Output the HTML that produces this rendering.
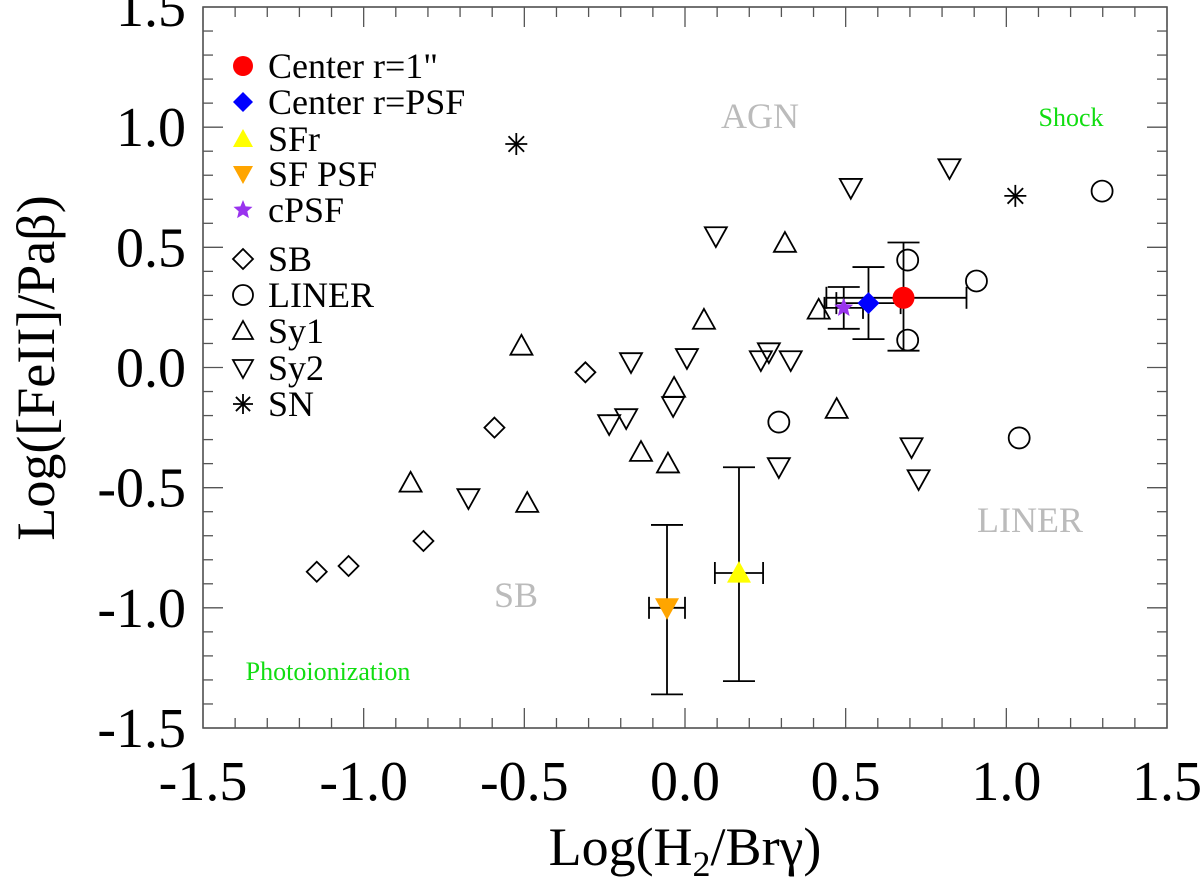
<!DOCTYPE html>
<html><head><meta charset="utf-8"><style>
html,body{margin:0;padding:0;background:#fff;}
svg{display:block;font-family:"Liberation Serif",serif;}
</style></head><body>
<svg id="chart" width="1200" height="877" viewBox="0 0 1200 877" xmlns="http://www.w3.org/2000/svg"></svg>
<script>
const xTicks=[-1.5,-1.0,-0.5,0.0,0.5,1.0,1.5];
const yTicks=[-1.5,-1.0,-0.5,0.0,0.5,1.0,1.5];
const tickLabels=["-1.5","-1.0","-0.5","0.0","0.5","1.0","1.5"];
const sbX=[-1.146,-1.047,-0.814,-0.593,-0.31];
const sbY=[-0.85,-0.826,-0.722,-0.25,-0.02];
const linerX=[0.693,0.693,0.907,0.292,1.040,1.298];
const linerY=[0.447,0.114,0.36,-0.227,-0.293,0.734];
const sy1X=[-0.854,-0.509,-0.491,-0.137,-0.053,-0.034,0.059,0.311,0.416,0.472];
const sy1Y=[-0.48,0.09,-0.564,-0.352,-0.40,-0.085,0.198,0.518,0.24,-0.173];
const sy2X=[-0.674,-0.236,-0.183,-0.168,-0.037,0.006,0.096,0.236,0.261,0.329,0.292,0.516,0.705,0.727,0.823];
const sy2Y=[-0.543,-0.235,-0.21,0.023,-0.16,0.04,0.547,0.031,0.064,0.031,-0.414,0.748,-0.331,-0.464,0.83];
const snX=[-0.525,1.028];
const snY=[0.93,0.714];
const specNames=["center-r1","center-psf","cpsf","sfr","sf-psf"];
const specX=[0.68,0.571,0.494,0.168,-0.056];
const specY=[0.29,0.268,0.248,-0.855,-1.0];
const specXLo=[0.24,0.1,0.06,0.075,0.056];
const specXHi=[0.196,0.1,0.06,0.075,0.056];
const specYLo=[0.22,0.15,0.087,0.45,0.36];
const specYHi=[0.23,0.15,0.087,0.44,0.345];

const NS="http://www.w3.org/2000/svg";
const svg=document.getElementById('chart');
const L=203,R=1167,T=7,B=728;
const X=v=>L+(v+1.5)/3*(R-L);
const Y=v=>B-(v+1.5)/3*(B-T);
function mk(tag,attrs,parent){const e=document.createElementNS(NS,tag);for(const k in attrs)e.setAttribute(k,attrs[k]);(parent||svg).appendChild(e);return e;}

const axes=mk('g',{});


const frame=mk('rect',{x:L,y:T,width:R-L,height:B-T,fill:'none',stroke:'#444','stroke-width':1.5},axes);


for(let i=0;i<=30;i++){
  const v=-1.5+i*0.1;const major=i%5===0;const len=major?20:10;
  const px=X(v),py=Y(v);
  mk('line',{x1:px,y1:B,x2:px,y2:B-len,stroke:'#555','stroke-width':1.3},axes);
  mk('line',{x1:px,y1:T,x2:px,y2:T+len,stroke:'#555','stroke-width':1.3},axes);
  mk('line',{x1:L,y1:py,x2:L+len,y2:py,stroke:'#555','stroke-width':1.3},axes);
  mk('line',{x1:R,y1:py,x2:R-len,y2:py,stroke:'#555','stroke-width':1.3},axes);
}
xTicks.forEach((v,i)=>{const t=mk('text',{x:X(v),y:800,'font-size':56,'text-anchor':'middle',fill:'#000'});t.textContent=tickLabels[i];

});
yTicks.forEach((v,i)=>{const t=mk('text',{x:186,y:Y(v)+19,'font-size':56,'text-anchor':'end',fill:'#000'});t.textContent=tickLabels[i];

});
const xt=mk('text',{x:685,y:865,'font-size':54,'text-anchor':'middle'});
xt.innerHTML='Log(H<tspan font-size="36" dy="11">2</tspan><tspan dy="-11">/Br&#947;)</tspan>';


const yt=mk('text',{x:0,y:0,'font-size':54,'text-anchor':'middle',transform:'translate(54,368) rotate(-90)'});
yt.textContent='Log([FeII]/Paβ)';



function region(txt,x,y,size,col,name){const t=mk('text',{x:x,y:y,'font-size':size,'text-anchor':'middle',fill:col});t.textContent=txt;

}
region('AGN',760,128,36,'#bbb','agn-region-label');
region('Shock',1071,126,26,'#11dd11','shock-region-label');
region('LINER',1030,532,36,'#bbb','liner-region-label');
region('SB',516,607,36,'#bbb','sb-region-label');
region('Photoionization',328,680,26,'#11dd11','photoionization-region-label');

function marker(type,cx,cy,s,fill,parent){
  const st=fill?{fill:fill,stroke:'none'}:{fill:'none',stroke:'#000','stroke-width':1.8};
  let e;
  if(type==='circle')e=mk('circle',Object.assign({cx:cx,cy:cy,r:s},st),parent);
  else if(type==='diamond')e=mk('polygon',Object.assign({points:`${cx},${cy-s} ${cx+s},${cy} ${cx},${cy+s} ${cx-s},${cy}`},st),parent);
  else if(type==='up')e=mk('polygon',Object.assign({points:`${cx},${cy-s} ${cx+s},${cy+s*0.8} ${cx-s},${cy+s*0.8}`},st),parent);
  else if(type==='down')e=mk('polygon',Object.assign({points:`${cx},${cy+s} ${cx+s},${cy-s*0.8} ${cx-s},${cy-s*0.8}`},st),parent);
  else if(type==='star'){let p=[];for(let k=0;k<10;k++){const a=-Math.PI/2+k*Math.PI/5;const r=k%2?s*0.45:s;p.push((cx+r*Math.cos(a)).toFixed(1)+','+(cy+r*Math.sin(a)).toFixed(1));}e=mk('polygon',Object.assign({points:p.join(' ')},st),parent);}
  else if(type==='ast'){e=mk('g',{stroke:'#000','stroke-width':1.8},parent);for(let k=0;k<4;k++){const a=k*Math.PI/4;mk('line',{x1:cx-s*Math.cos(a),y1:cy-s*Math.sin(a),x2:cx+s*Math.cos(a),y2:cy+s*Math.sin(a)},e);}}
  return e;
}
function series(xs,ys,type,s,name){
  const g=mk('g',{});
  
  
  xs.forEach((v,i)=>{const m=marker(type,X(v),Y(ys[i]),s,null,g);
    
    });
}
series(sbX,sbY,'diamond',10,'sb');
series(linerX,linerY,'circle',10.5,'liner');
series(sy1X,sy1Y,'up',11,'sy1');
series(sy2X,sy2Y,'down',11,'sy2');
series(snX,snY,'ast',11,'sn');

const specType=['circle','diamond','star','up','down'];
const specFill=['#ff0000','#0000ff','#9933ee','#ffff00','#ffa500'];
const specSize=[11,11,10,12,12];
const eg=mk('g',{stroke:'#000','stroke-width':1.8});


specX.forEach((v,i)=>{
  const cx=X(v),cy=Y(specY[i]);const x1=X(v-specXLo[i]),x2=X(v+specXHi[i]),y1=Y(specY[i]+specYHi[i]),y2=Y(specY[i]-specYLo[i]);
  mk('line',{x1:x1,y1:cy,x2:x2,y2:cy},eg);mk('line',{x1:x1,y1:cy-11,x2:x1,y2:cy+11},eg);mk('line',{x1:x2,y1:cy-11,x2:x2,y2:cy+11},eg);
  mk('line',{x1:cx,y1:y1,x2:cx,y2:y2},eg);mk('line',{x1:cx-16,y1:y1,x2:cx+16,y2:y1},eg);mk('line',{x1:cx-16,y1:y2,x2:cx+16,y2:y2},eg);
});
specX.forEach((v,i)=>{const m=marker(specType[i],X(v),Y(specY[i]),specSize[i],specFill[i]);
  
  });

const legNames=['Center r=1"','Center r=PSF','SFr','SF PSF','cPSF','SB','LINER','Sy1','Sy2','SN'];
const legType=['circle','diamond','up','down','star','diamond','circle','up','down','ast'];
const legFill=['#ff0000','#0000ff','#ffff00','#ffa500','#9933ee',null,null,null,null,null];
const legYs=[66,102,139,174,210,259,295,331,368,404];
const lg=mk('g',{});


legNames.forEach((n,i)=>{
  const e=mk('g',{},lg);
  
  
  marker(legType[i],243,legYs[i],10,legFill[i],e);
  const t=mk('text',{x:268,y:legYs[i]+12,'font-size':36},e);t.textContent=n;
});
</script>
</body></html>
